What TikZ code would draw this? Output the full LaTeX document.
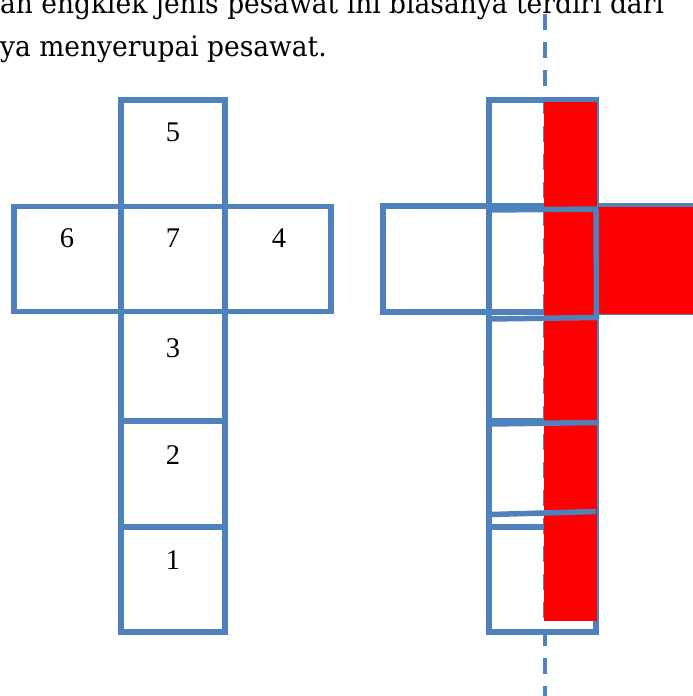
\documentclass[tikz,border=0pt]{standalone}
\usepackage{fontspec}
\setmainfont{Liberation Serif}
\newfontfamily\headserif[FakeStretch=0.936]{DejaVu Serif}
\definecolor{nblue}{HTML}{4F81BD}
\definecolor{nred}{HTML}{FF0000}
\begin{document}
\begin{tikzpicture}[x=1pt,y=-1pt,
  cell/.style={draw=nblue, line width=5.5pt, rectangle, inner sep=0pt, outer sep=0pt},
  edge/.style={draw=nblue, line width=5.5pt},
  digit/.style={font=\fontsize{28.5}{30}\selectfont, inner sep=0pt},
  head/.style={font=\headserif\fontsize{28.3}{34}\selectfont, inner sep=0pt, anchor=base west},
  redfill/.style={fill=nred, draw=none},
  foldline/.style={draw=nblue, line width=4pt, dash pattern=on 16pt off 12pt}]
\useasboundingbox (0,0) rectangle (693,696);
\clip (0,0) rectangle (693,696);
% heading text
\node[head] (t1) at (0,13) {an engklek jenis pesawat ini biasanya terdiri dari};
\node[head] (t2) at (0,56) {ya menyerupai pesawat.};
% left net
\node[cell, minimum width=104pt, minimum height=106.5pt] (b5) at (173,153.25) {};
\node[cell, minimum width=107pt, minimum height=105pt] (b6) at (67.5,259) {};
\node[cell, minimum width=104pt, minimum height=105pt] (b7) at (173,259) {};
\node[cell, minimum width=106pt, minimum height=105pt] (b4) at (278,259) {};
\node[cell, minimum width=104pt, minimum height=109.5pt] (b3) at (173,366.25) {};
\node[cell, minimum width=104pt, minimum height=106pt] (b2) at (173,474) {};
\node[cell, minimum width=104pt, minimum height=105pt] (b1) at (173,579.5) {};
\node[digit] (d5) at (173,132.5) {5};
\node[digit] (d6) at (67,238.5) {6};
\node[digit] (d7) at (173,238.5) {7};
\node[digit] (d4) at (279,238.5) {4};
\node[digit] (d3) at (173,348) {3};
\node[digit] (d2) at (173,455) {2};
\node[digit] (d1) at (173,560) {1};
% right net: fold line
\coordinate (ftop) at (545,14);
\coordinate (fbot) at (545,702);
\draw[foldline] (ftop) -- (fbot);
% right net: outline under the red
\node[cell, minimum width=107pt, minimum height=106pt] (r5) at (542.5,153) {};
\node[cell, minimum width=106pt, minimum height=106pt] (r6) at (436,259) {};
\node[cell, minimum width=107pt, minimum height=106pt] (r7) at (542.5,259) {};
\node[cell, minimum width=106pt, minimum height=106pt] (r4) at (649,259) {};
\node[cell, minimum width=107pt, minimum height=109pt] (r3) at (542.5,366.5) {};
\node[cell, minimum width=107pt, minimum height=106pt] (r2) at (542.5,474) {};
\node[cell, minimum width=107pt, minimum height=105pt] (r1) at (542.5,579.5) {};
% red halves
\fill[redfill] (543.5,102) rectangle (596.5,621);
\fill[redfill] (597.5,207) rectangle (693,314);
% folded edges drawn over the red
\coordinate (s1a) at (489,210); \coordinate (s1b) at (597,209);
\coordinate (s2a) at (596,209); \coordinate (s2b) at (596.5,319);
\coordinate (s3a) at (489,319); \coordinate (s3b) at (597,317.5);
\coordinate (s4a) at (489,424); \coordinate (s4b) at (597,422.5);
\coordinate (s5a) at (491,514.5); \coordinate (s5b) at (596,511.5);
\draw[edge] (s1a) -- (s1b);
\draw[edge] (s2a) -- (s2b);
\draw[edge] (s3a) -- (s3b);
\draw[edge] (s4a) -- (s4b);
\draw[edge] (s5a) -- (s5b);
\end{tikzpicture}
\end{document}
